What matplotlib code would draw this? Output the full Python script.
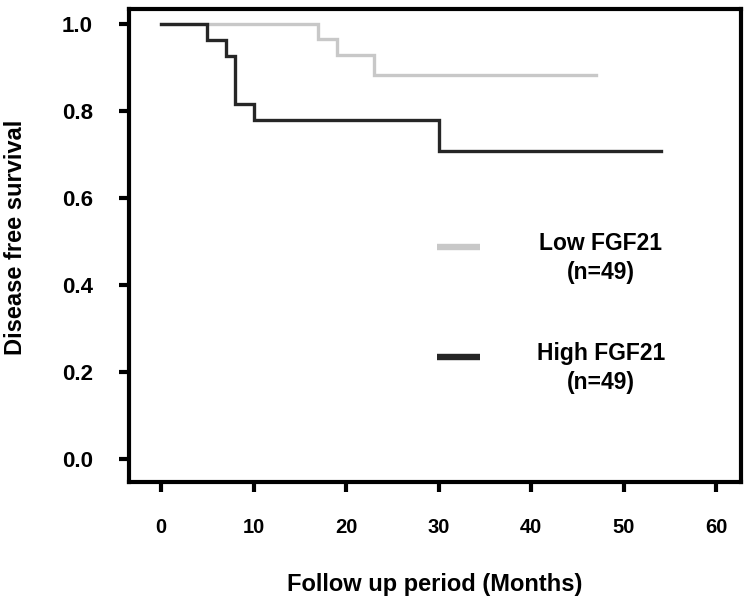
import matplotlib
matplotlib.use("Agg")
import matplotlib.pyplot as plt

# Kaplan-Meier style steps
high_months = [0, 5, 7, 8, 10, 30, 54]
high_surv = [1.0, 0.963, 0.926, 0.815, 0.778, 0.708, 0.708]
low_months = [0, 17, 19, 23, 47]
low_surv = [1.0, 0.965, 0.929, 0.882, 0.882]

groups = ["Low FGF21\n(n=49)", "High FGF21\n(n=49)"]
x_ticks = [0, 10, 20, 30, 40, 50, 60]
y_ticks = [0.0, 0.2, 0.4, 0.6, 0.8, 1.0]

LOW_COLOR = "#c8c8c8"
HIGH_COLOR = "#262626"

plt.rcParams["font.family"] = ["Liberation Sans", "DejaVu Sans"]
plt.rcParams["font.weight"] = "bold"

fig = plt.figure(figsize=(7.5, 6.01), dpi=100)
ax = fig.add_axes([0.172, 0.198, 0.816, 0.787])

ax.step(low_months, low_surv, where="post", color=LOW_COLOR, linewidth=2.4, solid_joinstyle="miter")
ax.step(high_months, high_surv, where="post", color=HIGH_COLOR, linewidth=2.4, solid_joinstyle="miter")

ax.set_xlim(-3.46, 62.7)
ax.set_ylim(-0.053, 1.034)
ax.set_xticks(x_ticks)
ax.set_yticks(y_ticks)
ax.set_xticklabels([str(t) for t in x_ticks], fontsize=14.5, fontweight="bold")
ax.set_yticklabels([f"{t:.1f}" for t in y_ticks], fontsize=16, fontweight="bold")
ax.tick_params(axis="x", length=7, width=3, pad=19)
ax.tick_params(axis="y", length=7, width=3, pad=19)
for sp in ax.spines.values():
    sp.set_linewidth(3)

ax.set_xlabel("Follow up period (Months)", fontsize=17, fontweight="bold", labelpad=26)
ax.set_ylabel("Disease free survival", fontsize=17, fontweight="bold")
ax.yaxis.set_label_coords(-0.166, 0.517)

# legend drawn by hand, as in the original
legend_rows = [(0.497, LOW_COLOR), (0.264, HIGH_COLOR)]
for (y, color), label in zip(legend_rows, groups):
    ax.plot([0.503, 0.574], [y, y], transform=ax.transAxes, color=color,
            linewidth=4.6, solid_capstyle="butt")
    ax.text(0.771, y - 0.023, label, transform=ax.transAxes, ha="center", va="center",
            fontsize=16.5, fontweight="bold", linespacing=1.3)

fig.savefig("out.png", dpi=100)
